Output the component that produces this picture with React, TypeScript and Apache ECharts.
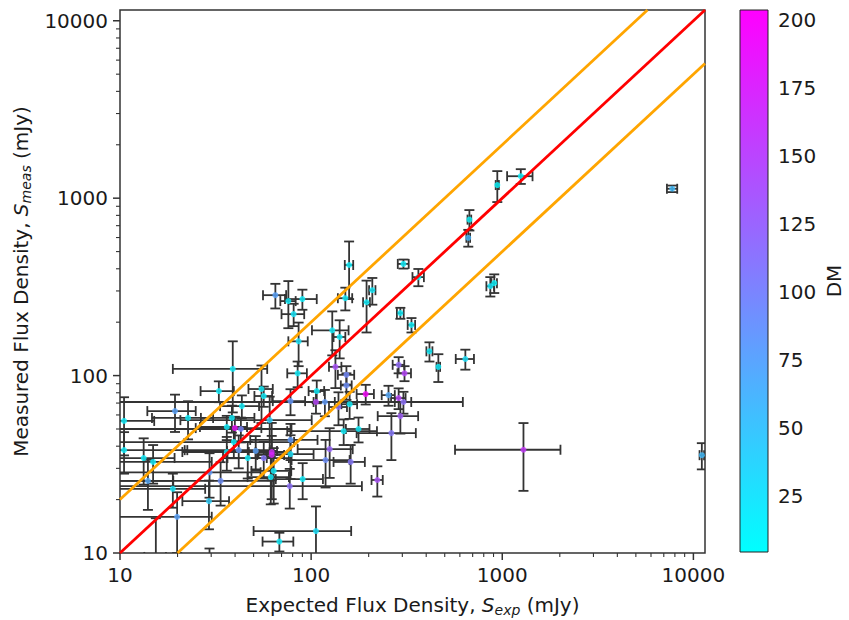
import React, { useEffect, useRef } from "react";
import * as echarts from "echarts";

// ---- data: [expected flux (mJy), measured flux (mJy), x error, y error, DM]
const sources: number[][] = [
  [1250, 1330, 190, 127, 14],
  [942, 1186, 18, 235, 10],
  [7750, 1130, 480, 48, 55],
  [673, 757, 15, 100, 10],
  [664, 598, 15, 65, 60],
  [158, 420, 8, 150, 14],
  [304, 426, 20, 25, 14],
  [364, 359, 25, 40, 12],
  [866, 319, 40, 40, 20],
  [908, 332, 30, 40, 12],
  [151, 273, 13, 40, 15],
  [209, 303, 8, 52, 18],
  [195, 259, 8, 84, 15],
  [65, 284, 9, 45, 75],
  [76, 263, 7, 78, 15],
  [90, 270, 17, 35, 14],
  [81, 222, 11, 32, 20],
  [86, 156, 10, 43, 22],
  [129, 180, 28, 50, 15],
  [141, 165, 10, 40, 15],
  [293, 225, 12, 16, 15],
  [335, 193, 15, 18, 12],
  [416, 137, 15, 17, 15],
  [463, 112, 10, 20, 15],
  [641, 124, 70, 16, 25],
  [287, 115, 20, 12, 120],
  [308, 103, 25, 10, 150],
  [134, 112, 10, 27, 140],
  [153, 101, 15, 12, 95],
  [153, 88, 10, 15, 90],
  [85, 103, 10, 17, 15],
  [55, 84, 8, 30, 15],
  [56.5, 76.7, 6, 10, 15],
  [38.9, 109, 20, 47, 15],
  [32.9, 81.8, 6.5, 11, 15],
  [107, 81.8, 10, 12, 15],
  [193, 78.7, 20, 10, 200],
  [254, 77.6, 20, 10, 70],
  [287, 74.7, 25, 10, 150],
  [304, 71, 30, 10, 115],
  [293, 59.1, 70, 12, 130],
  [263, 47.4, 90, 14, 110],
  [177, 50, 25, 8, 15],
  [148, 48.6, 73, 8, 15],
  [159, 69, 15, 12, 15],
  [139, 66.5, 15, 14, 115],
  [118, 71, 15, 12, 80],
  [106, 71, 516, 10, 150],
  [78, 71.8, 15, 12, 85],
  [43.4, 67.3, 10, 10, 15],
  [38.5, 57.7, 12, 10, 15],
  [36.2, 51.3, 10, 8, 15],
  [39.9, 50.6, 15, 8, 190],
  [42.9, 50, 36, 8, 100],
  [39.4, 42.2, 42, 8, 15],
  [41.8, 38, 20, 8, 80],
  [46.6, 34.3, 12, 8, 15],
  [51.3, 37.6, 15, 8, 75],
  [56.5, 34.3, 20, 8, 110],
  [62.2, 37.1, 15, 17, 170],
  [62.2, 35.7, 10, 10, 175],
  [60.7, 56.1, 40, 20, 40],
  [78, 43.4, 30, 10, 80],
  [78, 36.1, 25, 10, 25],
  [63.7, 29, 15, 10, 15],
  [61.5, 26.8, 15, 8, 15],
  [90.3, 26.1, 25, 6, 15],
  [77.3, 23.8, 107, 6, 115],
  [125, 38.5, 40, 12, 125],
  [119, 33.4, 40, 10, 90],
  [161, 32.6, 30, 8, 110],
  [222, 25.8, 15, 5, 140],
  [106, 13.3, 56, 5, 25],
  [68.2, 11.6, 12.5, 1.4, 15],
  [10.5, 55.5, 4.6, 20, 15],
  [10.5, 38, 12, 10, 15],
  [13.3, 34.3, 6, 10, 15],
  [14.9, 32.6, 15.3, 8, 15],
  [19.4, 63.1, 5.5, 15, 75],
  [22.7, 57.7, 8, 14, 15],
  [14, 25.5, 5, 8, 70],
  [18.9, 23, 9, 5, 20],
  [29.2, 19.6, 8, 6, 40],
  [19.9, 16, 10.3, 6, 75],
  [33.6, 25.5, 30, 7, 90],
  [29.4, 28.5, 25, 8, 80],
  [36.2, 37.1, 15, 8, 15],
  [11070, 35.6, 300, 6, 55],
  [1291, 38.2, 725, 15.8, 160],
  [15.4, 9.5, 2, 6.2, 15],
  [29.4, 8, 3, 2.6, 15],
];

// ---- axes
const AXIS_MIN = 10;
const AXIS_MAX = 11500;
const majorTicks = [10, 100, 1000, 10000];
const minorTicks = [
  20, 30, 40, 50, 60, 70, 80, 90,
  200, 300, 400, 500, 600, 700, 800, 900,
  2000, 3000, 4000, 5000, 6000, 7000, 8000, 9000,
];
const dmMin = 4.4;
const dmMax = 203.7;
const dmTicks = [25, 50, 75, 100, 125, 150, 175, 200];
const coolColors = ["#00ffff", "#ff00ff"];

// ---- reference lines: S_meas = S_exp, 2 S_exp, S_exp / 2
const identityLine = [[10, 10], [11500, 11500]];
const upperLine = [[10, 20], [5750, 11500]];
const lowerLine = [[20, 10], [11500, 5750]];

const FONT = "'DejaVu Sans', sans-serif";
const TXT = "#1a1a1a";
const ERR = "#333333";

const isPow10 = (v: number) => {
  const l = Math.log10(v);
  return Math.abs(l - Math.round(l)) < 1e-6;
};

export default function App() {
  const ref = useRef<HTMLDivElement>(null);

  useEffect(() => {
    if (!ref.current) return;
    const chart = echarts.init(ref.current, undefined, { renderer: "svg" });

    const errRender = (params: any, api: any) => {
      const x = api.value(0) as number;
      const y = api.value(1) as number;
      const ex = api.value(2) as number;
      const ey = api.value(3) as number;
      const cs = params.coordSys;
      const c = api.coord([x, y]);
      const cap = 5;
      const xLo = x - ex, xHi = x + ex, yLo = y - ey, yHi = y + ey;
      const left = xLo > 0 ? api.coord([xLo, y])[0] : cs.x - 2;
      const right = api.coord([xHi, y])[0];
      const bottom = yLo > 0 ? api.coord([x, yLo])[1] : cs.y + cs.height + 2;
      const top = api.coord([x, yHi])[1];
      const style = { stroke: ERR, lineWidth: 1.8, fill: null };
      const children: any[] = [
        { type: "line", shape: { x1: left, y1: c[1], x2: right, y2: c[1] }, style },
        { type: "line", shape: { x1: c[0], y1: top, x2: c[0], y2: bottom }, style },
        { type: "line", shape: { x1: right, y1: c[1] - cap, x2: right, y2: c[1] + cap }, style },
        { type: "line", shape: { x1: c[0] - cap, y1: top, x2: c[0] + cap, y2: top }, style },
      ];
      if (xLo > 0)
        children.push({ type: "line", shape: { x1: left, y1: c[1] - cap, x2: left, y2: c[1] + cap }, style });
      if (yLo > 0)
        children.push({ type: "line", shape: { x1: c[0] - cap, y1: bottom, x2: c[0] + cap, y2: bottom }, style });
      return { type: "group", children };
    };

    const xTickRender = (params: any, api: any) => {
      const cs = params.coordSys;
      const px = api.coord([api.value(0), AXIS_MIN])[0];
      const major = api.value(2) === 1;
      const base = cs.y + cs.height;
      return {
        type: "line",
        shape: { x1: px, y1: base, x2: px, y2: base + (major ? 7 : 4) },
        style: { stroke: "#333", lineWidth: major ? 1.5 : 1.1 },
      };
    };
    const yTickRender = (params: any, api: any) => {
      const cs = params.coordSys;
      const py = api.coord([AXIS_MIN, api.value(1)])[1];
      const major = api.value(2) === 1;
      return {
        type: "line",
        shape: { x1: cs.x - (major ? 7 : 4), y1: py, x2: cs.x, y2: py },
        style: { stroke: "#333", lineWidth: major ? 1.5 : 1.1 },
      };
    };

    const colorbarRender = (params: any, api: any) => {
      const tl = api.coord([0, dmMax]);
      const br = api.coord([1, dmMin]);
      return {
        type: "rect",
        shape: { x: tl[0], y: tl[1], width: br[0] - tl[0], height: br[1] - tl[1] },
        style: {
          fill: new echarts.graphic.LinearGradient(0, 1, 0, 0, [
            { offset: 0, color: coolColors[0] },
            { offset: 1, color: coolColors[1] },
          ]),
          stroke: "#222",
          lineWidth: 1,
        },
      };
    };

    const tickData = (axis: "x" | "y") => [
      ...majorTicks.map((v) => (axis === "x" ? [v, AXIS_MIN, 1] : [AXIS_MIN, v, 1])),
      ...minorTicks.map((v) => (axis === "x" ? [v, AXIS_MIN, 0] : [AXIS_MIN, v, 0])),
    ];

    const labelStyle = { fontFamily: FONT, fontSize: 20, color: TXT };
    const rich = {
      it: { fontFamily: FONT, fontSize: 20, fontStyle: "italic", color: TXT },
      sub: { fontFamily: FONT, fontSize: 14, fontStyle: "italic", color: TXT, padding: [10, 0, 0, 0] },
    };

    const option: any = {
      animation: false,
      backgroundColor: "#ffffff",
      textStyle: { fontFamily: FONT },
      grid: [
        {
          left: 120, top: 10, right: 144, bottom: 67,
          show: true, borderColor: "#333", borderWidth: 1.5, backgroundColor: "transparent",
          outerBoundsMode: "none", containLabel: false,
        },
        {
          left: 740, top: 10, width: 28, height: 542,
          show: false, outerBoundsMode: "none", containLabel: false,
        },
      ],
      xAxis: [
        {
          type: "log", logBase: 10, gridIndex: 0, min: AXIS_MIN, max: AXIS_MAX,
          axisLine: { show: false }, axisTick: { show: false }, splitLine: { show: false },
          minorTick: { show: false }, minorSplitLine: { show: false },
          axisLabel: {
            ...labelStyle, margin: 12, hideOverlap: false,
            formatter: (v: number) => (isPow10(v) ? String(Math.round(v)) : ""),
          },
          name: "Expected Flux Density, {it|S}{sub|exp} (mJy)",
          nameLocation: "middle", nameGap: 40,
          nameTextStyle: { ...labelStyle, rich },
        },
        { type: "value", gridIndex: 1, min: 0, max: 1, show: false },
      ],
      yAxis: [
        {
          type: "log", logBase: 10, gridIndex: 0, min: AXIS_MIN, max: AXIS_MAX,
          axisLine: { show: false }, axisTick: { show: false }, splitLine: { show: false },
          minorTick: { show: false }, minorSplitLine: { show: false },
          axisLabel: {
            ...labelStyle, margin: 12, hideOverlap: false,
            formatter: (v: number) => (isPow10(v) ? String(Math.round(v)) : ""),
          },
          name: "Measured Flux Density, {it|S}{sub|meas} (mJy)",
          nameLocation: "middle", nameGap: 83, nameRotate: 90,
          nameTextStyle: { ...labelStyle, rich },
        },
        {
          type: "value", gridIndex: 1, position: "right", min: dmMin, max: dmMax,
          axisLine: { show: false },
          splitLine: { show: false },
          axisTick: { show: true, customValues: dmTicks, length: 7, lineStyle: { color: "#333", width: 1.5 } },
          axisLabel: { ...labelStyle, customValues: dmTicks, margin: 10 },
          name: "DM", nameLocation: "middle", nameGap: 56, nameRotate: 90,
          nameTextStyle: { ...labelStyle },
        },
      ],
      visualMap: {
        type: "continuous", show: false, min: dmMin, max: dmMax, dimension: 2,
        seriesIndex: 1, inRange: { color: coolColors },
      },
      series: [
        {
          type: "custom", name: "errors", xAxisIndex: 0, yAxisIndex: 0,
          data: sources.map((s) => [s[0], s[1], s[2], s[3]]),
          encode: { x: 0, y: 1 }, renderItem: errRender, clip: true, z: 2, silent: true,
        },
        {
          type: "scatter", name: "sources", xAxisIndex: 0, yAxisIndex: 0,
          data: sources.map((s) => [s[0], s[1], s[4]]),
          symbol: "circle", symbolSize: 6, z: 3, silent: true,
        },
        {
          type: "line", xAxisIndex: 0, yAxisIndex: 0, data: upperLine, showSymbol: false,
          lineStyle: { color: "#ffa500", width: 2.8 }, z: 4, silent: true,
        },
        {
          type: "line", xAxisIndex: 0, yAxisIndex: 0, data: lowerLine, showSymbol: false,
          lineStyle: { color: "#ffa500", width: 2.8 }, z: 4, silent: true,
        },
        {
          type: "line", xAxisIndex: 0, yAxisIndex: 0, data: identityLine, showSymbol: false,
          lineStyle: { color: "#ff0000", width: 2.8 }, z: 5, silent: true,
        },
        {
          type: "custom", xAxisIndex: 0, yAxisIndex: 0, data: tickData("x"),
          encode: { x: 0, y: 1 }, renderItem: xTickRender, clip: false, silent: true,
        },
        {
          type: "custom", xAxisIndex: 0, yAxisIndex: 0, data: tickData("y"),
          encode: { x: 0, y: 1 }, renderItem: yTickRender, clip: false, silent: true,
        },
        {
          type: "custom", xAxisIndex: 1, yAxisIndex: 1, data: [[0, dmMin]],
          encode: { x: 0, y: 1 }, renderItem: colorbarRender, clip: false, silent: true,
        },
      ],
    };

    chart.setOption(option);
    return () => chart.dispose();
  }, []);

  return (
    <div
      ref={ref}
      style={{ position: "fixed", left: 0, top: 0, width: 849, height: 620, background: "#fff" }}
    />
  );
}
